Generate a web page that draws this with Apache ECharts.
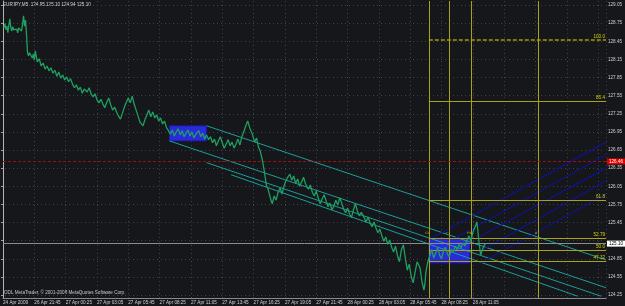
<!DOCTYPE html>
<html><head><meta charset="utf-8">
<script src="https://cdn.jsdelivr.net/npm/echarts@6/dist/echarts.min.js"></script>
<style>html,body{margin:0;padding:0;background:#15171a}#c{width:625px;height:306px}</style>
</head><body><div id="c"></div>
<script>
// ---- data (bar index on M5 timeframe, price) ----
const symbolTitle = "EURJPY,M5  124.95 125.10 124.94 125.10";
const copyrightText = "ODL MetaTrader, \u00A9 2001-2008 MetaQuotes Software Corp.";
const timeLabels = ["24 Apr 2009","26 Apr 21:45","27 Apr 00:25","27 Apr 03:05","27 Apr 05:45","27 Apr 08:25","27 Apr 11:05","27 Apr 13:45","27 Apr 16:25","27 Apr 19:05","27 Apr 21:45","28 Apr 00:25","28 Apr 03:05","28 Apr 05:45","28 Apr 08:25","28 Apr 11:05"];
const barsPerTimeLabel = 32;
const lastBar = 616;
const priceTickLabels = ["124.25","124.55","124.85","","125.45","125.75","126.05","126.35","126.65","126.95","127.25","127.55","127.85","128.15","128.45","128.75","129.05"];
const priceMin = 124.20, priceMax = 129.116;
const bidPrice = 125.10;
const alertPrice = 126.46;

const closeSeries = [[1,128.67],[2,128.74],[3,128.64],[4,128.70],[5,128.59],[6,128.72],[7,128.82],[8,128.67],[9,128.62],[10,128.69],[11,128.64],[12,128.67],[13,128.62],[14,128.65],[15,128.59],[16,128.67],[17,128.64],[18,128.69],[19,128.62],[20,128.74],[21,128.87],[22,128.70],[23,128.80],[24,128.57],
[25,128.27],[26,128.21],[27,128.26],[30,128.17],[31,128.24],[32,128.14],[33,128.29],
[35,128.11],[37,128.16],[39,128.04],[41,128.09],[43,127.99],[45,128.04],[47,127.96],[49,128.01],[51,127.92],[53,127.97],[55,127.87],[57,127.94],[59,127.84],[61,127.89],[63,127.81],[65,127.86],[67,127.78],[69,127.83],[71,127.74],[73,127.68],[75,127.73],[77,127.64],[79,127.69],[81,127.59],[83,127.66],[86,127.61],[88,127.68],[90,127.58],[92,127.53],[94,127.58],[96,127.48],[98,127.43],[100,127.49],[102,127.41],[104,127.35],[106,127.44],[108,127.51],[110,127.40],[112,127.31],[114,127.36],[116,127.28],[118,127.21],[120,127.16],[122,127.26],[124,127.36],[126,127.44],[128,127.51],[130,127.43],[132,127.54],[134,127.41],[136,127.31],[138,127.21],[140,127.11],[143,127.05],[145,127.15],[147,127.23],[149,127.31],[151,127.20],[153,127.28],[155,127.18],[157,127.23],[159,127.13],[161,127.18],[163,127.08],[165,127.13],[167,127.02],[169,126.97],
[171,126.91],[173,126.98],[175,126.88],[177,126.95],[179,127.00],[181,126.90],[183,126.97],[185,126.87],[187,126.93],[189,126.98],[191,126.88],[193,126.95],[195,126.85],[197,126.91],[200,126.97],[202,126.87],[204,126.93],[206,126.83],[208,126.90],[210,126.82],[212,126.87],[214,126.77],[216,126.83],[218,126.72],[220,126.80],[222,126.87],[224,126.77],[226,126.68],[228,126.75],[230,126.82],[232,126.72],[234,126.78],[236,126.68],[238,126.75],[240,126.83],[242,126.73],[244,126.87],[246,126.95],[248,127.05],[250,127.13],[252,127.02],[255,126.90],[257,126.78],[259,126.85],[261,126.70],[263,126.62],
[265,126.48],[267,126.29],[269,126.07],[271,125.99],[273,125.86],[275,125.76],[277,125.89],[279,125.82],[281,125.95],[283,126.02],[285,125.92],[287,126.05],[289,126.14],[291,126.20],[293,126.25],[295,126.15],[297,126.22],[299,126.10],[301,126.17],[303,126.05],[305,126.12],[307,126.20],[309,126.09],[312,126.00],[314,126.07],[316,125.95],[318,125.89],[320,125.97],[322,125.86],[324,125.76],[326,125.84],[328,125.91],[330,125.81],[332,125.71],[334,125.77],[336,125.66],[338,125.72],[340,125.82],[342,125.74],[344,125.86],[346,125.77],[348,125.67],[350,125.61],[352,125.69],[354,125.59],[356,125.53],[358,125.66],[360,125.76],[362,125.64],[364,125.56],[366,125.62],[369,125.53],[371,125.46],[373,125.54],[375,125.44],[377,125.38],[379,125.46],[381,125.36],[383,125.28],[385,125.34],[387,125.23],[389,125.14],[391,125.21],[393,125.09],[395,125.16],[397,125.04],[399,124.96],[401,125.06],[403,124.90],[405,124.80],[407,125.00],[409,125.08],[411,124.86],[413,124.66],[415,124.76],[417,124.56],[419,124.45],[421,124.63],[423,124.80],[426,124.70],[428,124.47],[430,124.33],[431,124.43],[432,124.63],[434,124.80],[436,124.90],[438,125.00],[440,124.86],[442,124.95],[444,125.03],[446,124.91],[448,124.85],[450,124.98],[452,125.04],[454,124.93],[456,124.88],[458,125.01],[460,124.96],[462,125.06],[464,125.00],[466,125.09],[468,125.03],[470,125.11],[472,125.06],[474,125.16],[476,125.23],[478,125.14],[480,125.29],[483,125.41],[484,125.46],[485,125.33],[486,125.16],[487,125.03],[488,124.91],[489,124.96],[491,125.06],[493,125.10]];

// rectangles
const boxStartBar = [170, 435];
const boxEndBar = [208, 477];
const boxLow = [126.80, 124.78];
const boxHigh = [127.05, 125.18];

// fibonacci retracement
const fibLevels = [100.0, 85.4, 61.8, 52.79, 50.0, 47.32];
const fibLevelText = ["100.0","85.4","61.8","52.79","50.0","47.32"];
const fibPrice0 = 121.51, fibPrice100 = 128.47;
const fibStartBar = 435;

// fibonacci time zones
const fibTimeBars = [435, 456, 478, 547];
const fibTimeText = ["0","1","2","5"];
const fibTimeTextPrice = 125.30;

// teal channel lines (start bar/price -> end bar/price)
const tealStartBar = [208, 170, 208, 233];
const tealStartPrice = [127.05, 126.80, 126.44, 126.24];
const tealEndBar = [616, 616, 611, 587];
const tealEndPrice = [124.83, 124.37, 124.23, 124.23];

// blue fan lines
const blueStartBar = [437, 462, 486, 486, 488];
const blueStartPrice = [125.18, 125.19, 125.21, 124.96, 124.78];
const blueEndBar = [616, 616, 616, 616, 616];
const blueEndPrice = [126.78, 126.57, 126.35, 126.14, 125.92];

// ---- chart ----
const FONT = 'Liberation Sans';
const FS = 4.6;
const OLIVE = '#a8a214';
const chart = echarts.init(document.getElementById('c'));

const fibPrice = lv => fibPrice0 + (fibPrice100 - fibPrice0) * lv / 100;
function markSeries(z, lineStyle, data, label) {
  return { type: 'line', xAxisIndex: 0, yAxisIndex: 0, data: [], z: z, silent: true,
    markLine: { silent: true, symbol: ['none', 'none'], animation: false, lineStyle: lineStyle,
      label: label || { show: false }, data: data } };
}

const series = [];
// boxes
series.push({
  type: 'line', xAxisIndex: 0, yAxisIndex: 0, data: [], z: 1, silent: true,
  markArea: {
    silent: true,
    itemStyle: { color: '#2a2ad8', borderColor: '#1a1aa0', borderWidth: 1 },
    data: boxStartBar.map((b, i) => [{ coord: [b, boxHigh[i]] }, { coord: [boxEndBar[i], boxLow[i]] }])
  }
});
// teal lines
tealStartBar.forEach((b, i) => {
  series.push({ type: 'line', xAxisIndex: 0, yAxisIndex: 0, z: 3, showSymbol: false, silent: true,
    lineStyle: { color: '#1c9e9c', width: 1 },
    data: [[b, tealStartPrice[i]], [tealEndBar[i], tealEndPrice[i]]] });
});
// blue lines
blueStartBar.forEach((b, i) => {
  series.push({ type: 'line', xAxisIndex: 0, yAxisIndex: 0, z: 3, showSymbol: false, silent: true,
    lineStyle: { color: '#12128e', width: 1.2 },
    data: [[b, blueStartPrice[i]], [blueEndBar[i], blueEndPrice[i]]] });
});
// fib 100 line (dashed, darker)
series.push(markSeries(4, { color: '#7c7a08', width: 2, type: [4, 2] },
  [[{ coord: [fibStartBar, fibPrice(fibLevels[0])] }, { coord: [lastBar, fibPrice(fibLevels[0])] }]],
  { show: true, formatter: fibLevelText[0], position: 'insideEndTop', distance: 1, color: '#d8d400', fontSize: FS, fontFamily: FONT }));
// other fib lines
series.push(markSeries(4, { color: OLIVE, width: 1, type: 'solid' },
  fibLevels.slice(1).map((lv, i) => [
    { coord: [fibStartBar, fibPrice(lv)], label: { formatter: fibLevelText[i + 1] } },
    { coord: [lastBar, fibPrice(lv)] }]),
  { show: true, position: 'insideEndTop', distance: 1, color: '#d8d400', fontSize: FS, fontFamily: FONT }));
// fib time zone vertical lines
series.push(markSeries(4, { color: OLIVE, width: 1, type: 'solid' },
  fibTimeBars.map(b => ({ xAxis: b }))));
// alert line (red)
series.push(markSeries(2, { color: '#9a1010', width: 1, type: [3, 2] },
  [{ yAxis: alertPrice }],
  { show: true, position: 'end', distance: 1, formatter: alertPrice.toFixed(2), color: '#ffffff', backgroundColor: '#e00000', padding: [1, 2, 0, 2], fontSize: FS, fontFamily: FONT }));
// bid line
series.push(markSeries(2, { color: '#8c8c8c', width: 1, type: 'solid' },
  [{ yAxis: bidPrice }],
  { show: true, position: 'end', distance: 1, formatter: bidPrice.toFixed(2), color: '#000000', backgroundColor: '#ffffff', padding: [1, 2, 0, 2], fontSize: FS, fontFamily: FONT }));
// fib time zone texts
series.push({
  type: 'scatter', xAxisIndex: 0, yAxisIndex: 0, z: 4, symbolSize: 0, silent: true,
  data: fibTimeBars.map((b, i) => ({ value: [b, fibTimeTextPrice], label: { formatter: fibTimeText[i] } })),
  label: { show: true, rotate: 90, position: 'left', distance: 1, color: '#c8c400', fontSize: FS, fontFamily: FONT }
});
// price line
series.push({
  type: 'line', xAxisIndex: 0, yAxisIndex: 0, z: 6, showSymbol: false, silent: true,
  lineStyle: { color: '#1f9f62', width: 1.3 },
  data: closeSeries
});

chart.setOption({
  animation: false,
  backgroundColor: '#15171a',
  grid: [
    { left: 1, right: 19, top: 1, bottom: 8 },
    { left: 1, right: 19, top: 5, bottom: 11 }
  ],
  xAxis: [
    { gridIndex: 0, type: 'value', min: 0, max: lastBar, interval: barsPerTimeLabel,
      axisLine: { show: true, lineStyle: { color: '#8a8a8a' } },
      axisTick: { show: false },
      axisLabel: { show: true, align: 'left', margin: 2, color: '#d0d0d0', fontSize: FS, fontFamily: FONT,
        showMaxLabel: false,
        formatter: v => (v % barsPerTimeLabel === 0 ? (timeLabels[v / barsPerTimeLabel] || '') : '') },
      splitLine: { show: true, lineStyle: { color: '#3c414c', type: [1, 3] } } },
    { gridIndex: 1, type: 'value', min: 0, max: 1, show: false }
  ],
  yAxis: [
    { gridIndex: 0, type: 'value', min: priceMin, max: priceMax, position: 'right',
      axisLine: { show: true, lineStyle: { color: '#b4b4b4' } },
      axisTick: { show: false }, axisLabel: { show: false }, splitLine: { show: false } },
    { gridIndex: 1, type: 'value', min: 0, max: priceTickLabels.length - 1, interval: 1, position: 'right',
      axisLine: { show: false },
      axisTick: { show: true, length: 2, lineStyle: { color: '#a0a0a0' } },
      axisLabel: { show: true, margin: 3, color: '#d0d0d0', fontSize: FS, fontFamily: FONT,
        formatter: v => priceTickLabels[v] || '' },
      splitLine: { show: true, lineStyle: { color: '#3c414c', type: [1, 3] } } }
  ],
  graphic: [
    { type: 'text', left: 3, top: 2, silent: true, style: { text: symbolTitle, fill: '#d8d8d8', fontSize: FS, fontFamily: FONT } },
    { type: 'text', left: 4, top: 290, silent: true, style: { text: copyrightText, fill: '#c8c8c8', fontSize: FS, fontFamily: FONT } }
  ],
  series
});
</script>
</body></html>
